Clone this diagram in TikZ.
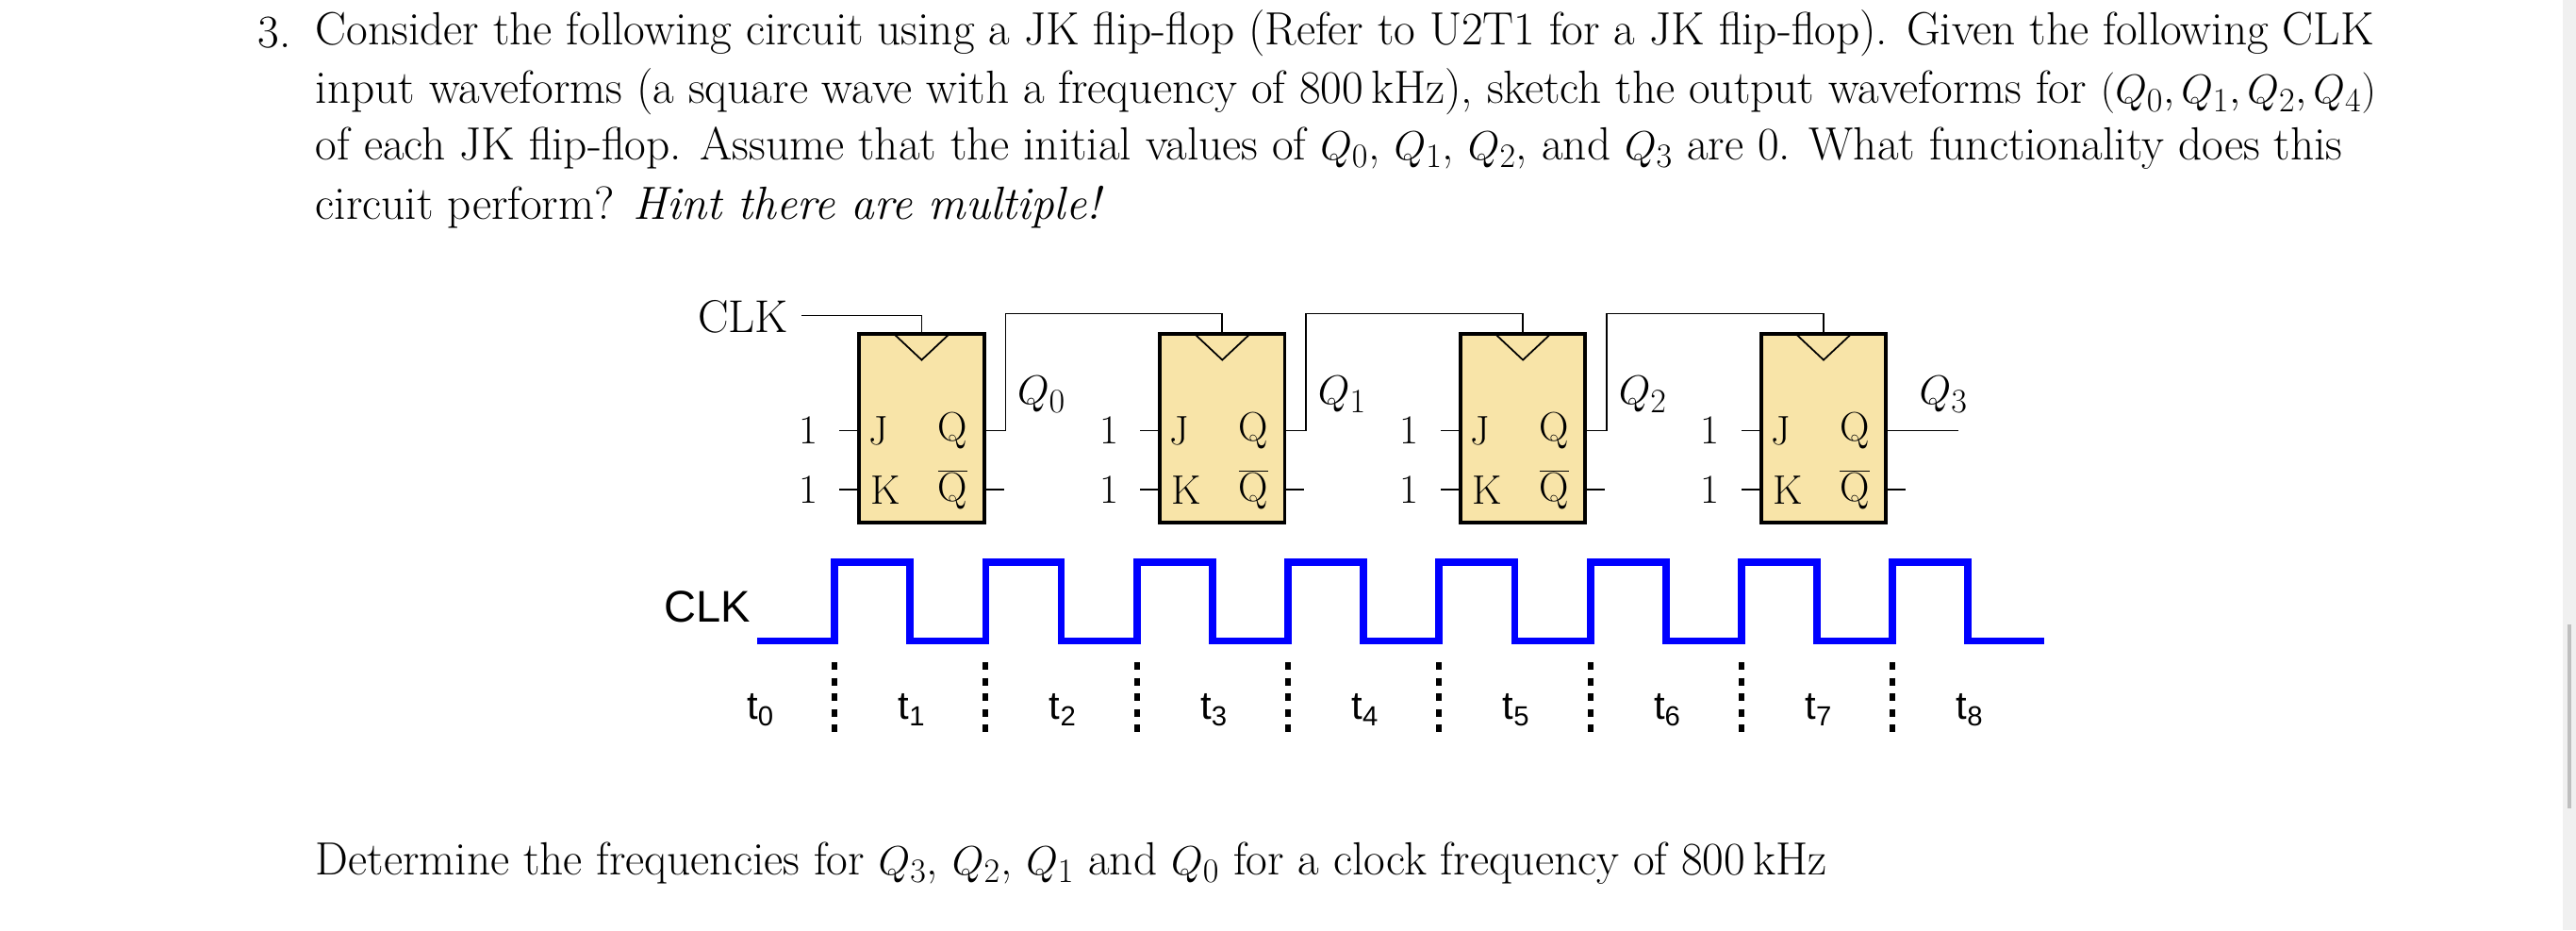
\documentclass[tikz,border=0pt]{standalone}
\usepackage{fontspec}
\usetikzlibrary{calc}
\newfontfamily\sansf{Liberation Sans}
\begin{document}
\begin{tikzpicture}[x=1pt,y=-1pt,
 every node/.style={inner sep=0pt},
 txt/.style={anchor=west,font=\fontsize{28.3}{32}\selectfont},
 ff/.style={draw,line width=2.2pt,fill=ffill,minimum width=76pt,minimum height=115pt},
 w/.style={line width=1pt},
 lbl/.style={font=\fontsize{25}{28}\selectfont},
 wave/.style={blue,line width=4.5pt},
 dot/.style={line width=3.5pt,dash pattern=on 4.5pt off 5pt},
 tl/.style={font=\sansf\fontsize{24}{26}\selectfont}]
\definecolor{ffill}{HTML}{F8E4A8}
\useasboundingbox (0,0) rectangle (1568,566);
\fill[gray!12] (1560,0) rectangle (1568,566);
\draw[gray!50,line width=2pt] (1564,380) -- (1564,492);
% text
\node[txt] (n3) at (157,20) {3.};
\node[txt] (l1) at (192,20) {Consider the following circuit using a JK flip-flop (Refer to U2T1 for a JK flip-flop). Given the following CLK};
\node[txt] (l2) at (192,56) {input waveforms (a square wave with a frequency of 800\,kHz), sketch the output waveforms for $(Q_0,Q_1,Q_2,Q_4)$};
\node[txt] (l3) at (192,90) {of each JK flip-flop. Assume that the initial values of $Q_0$, $Q_1$, $Q_2$, and $Q_3$ are 0. What functionality does this};
\node[txt] (l4) at (192,126) {circuit perform? \emph{Hint there are multiple!}};
\node[txt] (bt) at (192,525) {Determine the frequencies for $Q_3$, $Q_2$, $Q_1$ and $Q_0$ for a clock frequency of 800\,kHz};
% flip-flops
\node[font=\fontsize{28}{30}\selectfont,anchor=east] (clk) at (480,193) {CLK};
\foreach \i/\x in {0/561,1/744,2/927,3/1110}{
 \node[ff] (f\i) at (\x,260.5) {};
 \draw[w] (\x-16,204) -- (\x,219) -- (\x+16,204);
 \node[lbl] (j\i) at (\x-26,262) {J};
 \node[lbl] (k\i) at (\x-22,298) {K};
 \node[lbl] (q\i) at (\x+19,262) {Q};
 \node[lbl] (qb\i) at (\x+19,298) {$\overline{\mbox{Q}}$};
 \node[lbl] (o\i) at (\x-69,262) {1};
 \node[lbl] (p\i) at (\x-69,298) {1};
 \draw[w] (\x-50,262) -- (\x-38,262);
 \draw[w] (\x-50,298) -- (\x-38,298);
 \draw[w] (\x+38,298) -- (\x+50,298);
 \node[font=\fontsize{28}{30}\selectfont] (Q\i) at (\x+73,240) {$Q_{\i}$};
}
\draw[w] ($(clk.east)+(8,-1)$) -| (f0.north);
\foreach \i/\j in {0/1,1/2,2/3}{
 \draw[w] (f\i.east|-q\i) -- ++(12,0) |- ($(f\j.north)+(0,-11)$) -- (f\j.north);
}
\draw[w] (f3.east|-q3) -- ++(43,0);
% waveform
\node[font=\sansf\fontsize{27}{30}\selectfont,anchor=east] (wclk) at (457,369) {CLK};
\draw[wave] (461,390) -- (508,390)
 \foreach \k in {0,...,7}{ -- (508+92*\k,342) -- (554+92*\k,342) -- (554+92*\k,390) -- (600+92*\k,390)}
 -- (1244,390);
\foreach \k in {0,...,7}{ \draw[dot] (508+92*\k,403) -- (508+92*\k,448); }
\foreach \k in {0,...,8}{ \node[tl] (t\k) at (463+92*\k,432) {t\textsubscript{\k}}; }
\end{tikzpicture}
\end{document}
